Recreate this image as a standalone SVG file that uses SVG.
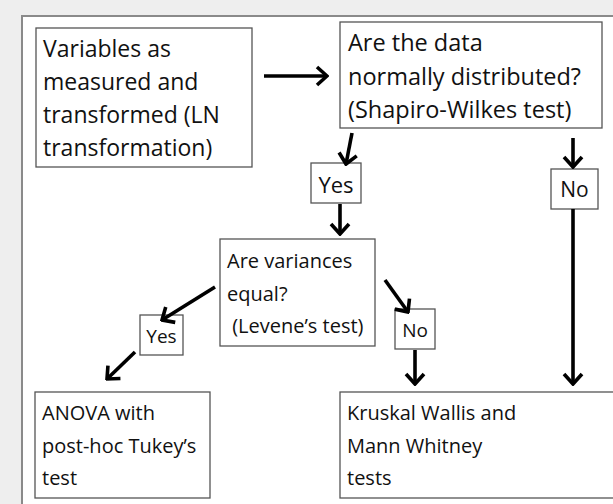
<svg xmlns="http://www.w3.org/2000/svg" width="613" height="504" viewBox="0 0 613 504">
<style>
.box{fill:#fff;stroke:#555;stroke-width:1.3}
.t{font-family:"Open Sans","Noto Sans",sans-serif;font-size:23px;fill:#111}
.s{font-size:20px}
.c{fill:none;stroke:#000;stroke-width:3.6;marker-end:url(#ah)}
</style>
<defs>
<marker id="ah" viewBox="-16 -12 18 24" refX="0" refY="0" markerWidth="18" markerHeight="24" markerUnits="userSpaceOnUse" orient="auto">
<path d="M-10,-9 L0,0 L-10,9" fill="none" stroke="#000" stroke-width="3.6" stroke-linejoin="miter"/>
</marker>
</defs>
<rect x="0" y="0" width="613" height="504" fill="#eeeeee"/>
<rect x="22" y="16" width="600" height="500" fill="#fff" stroke="#8a8a8a" stroke-width="2"/>
<g id="n1">
<rect class="box" x="36" y="28" width="216" height="139"/>
<text class="t"><tspan x="43" y="57">Variables as</tspan><tspan x="43" y="90">measured and</tspan><tspan x="43" y="123">transformed (LN</tspan><tspan x="43" y="156">transformation)</tspan></text>
</g>
<g id="n2">
<rect class="box" x="340" y="22" width="262" height="106"/>
<text class="t" style="font-size:23.5px"><tspan x="348" y="51">Are the data</tspan><tspan x="348" y="85">normally distributed?</tspan><tspan x="348" y="118">(Shapiro-Wilkes test)</tspan></text>
</g>
<g id="n3">
<rect class="box" x="311" y="163" width="50" height="40"/>
<text class="t" x="336" y="193" text-anchor="middle" style="font-size:22px">Yes</text>
</g>
<g id="n4">
<rect class="box" x="551" y="169" width="47" height="40"/>
<text class="t" x="574.5" y="197" text-anchor="middle" style="font-size:21px">No</text>
</g>
<g id="n5">
<rect class="box" x="220" y="239" width="155" height="107"/>
<text class="t s"><tspan x="227" y="268">Are variances</tspan><tspan x="227" y="301">equal?</tspan><tspan x="227" y="333"> (Levene’s test)</tspan></text>
</g>
<g id="n6">
<rect class="box" x="140" y="315" width="43" height="40"/>
<text class="t" x="161.5" y="343" text-anchor="middle" style="font-size:19px">Yes</text>
</g>
<g id="n7">
<rect class="box" x="395" y="309" width="40" height="40"/>
<text class="t" x="415" y="337" text-anchor="middle" style="font-size:19px">No</text>
</g>
<g id="n8">
<rect class="box" x="35" y="392" width="175" height="106"/>
<text class="t s"><tspan x="42" y="420">ANOVA with</tspan><tspan x="42" y="453">post-hoc Tukey’s</tspan><tspan x="42" y="485">test</tspan></text>
</g>
<g id="n9">
<rect class="box" x="340" y="392" width="290" height="106"/>
<text class="t s"><tspan x="347" y="420">Kruskal Wallis and</tspan><tspan x="347" y="453">Mann Whitney</tspan><tspan x="347" y="485">tests</tspan></text>
</g>
<g id="connectors">
<line class="c" x1="264" y1="76" x2="327" y2="76"/>
<line class="c" x1="352" y1="133" x2="346" y2="164"/>
<line class="c" x1="340" y1="204" x2="340" y2="234"/>
<line class="c" x1="573" y1="138" x2="573" y2="167"/>
<line class="c" x1="573" y1="209" x2="573" y2="384"/>
<line class="c" x1="215" y1="287" x2="162" y2="320"/>
<line class="c" x1="135" y1="352" x2="107" y2="379"/>
<line class="c" x1="385" y1="280" x2="408" y2="312"/>
<line class="c" x1="415" y1="350" x2="415" y2="384"/>
</g>
</svg>
